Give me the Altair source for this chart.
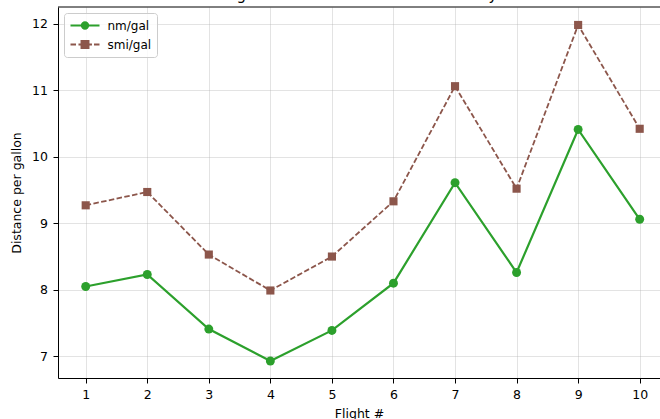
import altair as alt
import pandas as pd

# ---- data ----
title_text = "Mileage in nautical and statute miles by run"
flights = [1, 2, 3, 4, 5, 6, 7, 8, 9, 10]
nm_gal = [8.05, 8.23, 7.41, 6.93, 7.39, 8.10, 9.61, 8.26, 10.41, 9.06]
smi_gal = [9.27, 9.47, 8.53, 7.99, 8.50, 9.33, 11.06, 9.52, 11.98, 10.42]
series_names = ["nm/gal", "smi/gal"]
series_colors = ["#2ca02c", "#8c564b"]
x_ticks = [1, 2, 3, 4, 5, 6, 7, 8, 9, 10]
y_ticks = [7, 8, 9, 10, 11, 12]
x_title = "Flight #"
y_title = "Distance per gallon"

df = pd.DataFrame({
    "flight": flights + flights,
    "value": nm_gal + smi_gal,
    "series": [series_names[0]] * len(flights) + [series_names[1]] * len(flights),
})

W, H = 602, 371
FONT = "DejaVu Sans"

xscale = alt.Scale(domain=[0.55, 10.33], nice=False, zero=False)
yscale = alt.Scale(domain=[6.675, 12.25], nice=False, zero=False)
color_scale = alt.Scale(domain=series_names, range=series_colors)

x_enc = alt.X("flight:Q", scale=xscale,
              axis=alt.Axis(values=x_ticks, title=x_title, format="d"))
y_enc = alt.Y("value:Q", scale=yscale,
              axis=alt.Axis(values=y_ticks, title=y_title, format="d"))
col_nolegend = alt.Color("series:N", scale=color_scale, legend=None)

base = alt.Chart(df)

line_nm = base.transform_filter(alt.datum.series == series_names[0]).mark_line(
    strokeWidth=2.2, clip=True).encode(x=x_enc, y=y_enc, color=col_nolegend)
line_smi = base.transform_filter(alt.datum.series == series_names[1]).mark_line(
    strokeWidth=1.8, strokeDash=[5.5, 2.4], clip=True).encode(x=x_enc, y=y_enc, color=col_nolegend)
pts_nm = base.transform_filter(alt.datum.series == series_names[0]).mark_point(
    filled=True, shape="circle", size=80, opacity=1, clip=True).encode(x=x_enc, y=y_enc, color=col_nolegend)
pts_smi = base.transform_filter(alt.datum.series == series_names[1]).mark_point(
    filled=True, shape="square", size=66, opacity=1, clip=True).encode(x=x_enc, y=y_enc, color=col_nolegend)

# legend symbols: line + marker (rings drawn to look filled)
path_nm = ("M-1,0L1,0"
           "M0.22,0A0.22,0.22 0 1,1 -0.22,0A0.22,0.22 0 1,1 0.22,0"
           "M0.1,0A0.1,0.1 0 1,1 -0.1,0A0.1,0.1 0 1,1 0.1,0"
           "M0.03,0A0.03,0.03 0 1,1 -0.03,0A0.03,0.03 0 1,1 0.03,0")
path_smi = ("M-1,0L-0.62,0M-0.45,0L-0.07,0M0.1,0L0.48,0M0.62,0L1,0"
            "M-0.24,-0.24L0.24,-0.24L0.24,0.24L-0.24,0.24Z"
            "M-0.12,-0.12L0.12,-0.12L0.12,0.12L-0.12,0.12Z"
            "M-0.03,-0.03L0.03,-0.03L0.03,0.03L-0.03,0.03Z")

legend_params = dict(
    title=None, orient="none", legendX=6, legendY=6,
    symbolSize=841, symbolStrokeWidth=2, clipHeight=14,
    labelFont=FONT, labelFontSize=12, labelColor="black", labelOffset=7,
    rowPadding=5, padding=5.5,
    fillColor="rgba(255,255,255,0.8)", strokeColor="#cccccc", cornerRadius=3,
)

legend_layer = base.mark_point(filled=False, strokeWidth=2, opacity=1, clip=True).encode(
    x=x_enc,
    y=alt.value(-300),
    color=alt.Color("series:N", scale=color_scale, legend=alt.Legend(**legend_params)),
    shape=alt.Shape("series:N", scale=alt.Scale(domain=series_names, range=[path_nm, path_smi]),
                    legend=alt.Legend(**legend_params)),
)

top_spine = alt.Chart(pd.DataFrame({"k": [0]})).mark_rule(color="black", strokeWidth=1).encode(
    x=alt.value(0), x2=alt.value(W), y=alt.value(0))

title_layer = alt.Chart(pd.DataFrame({"t": [title_text]})).mark_text(
    font=FONT, fontSize=15, align="center", baseline="alphabetic", color="black").encode(
    text="t:N", x=alt.value(304), y=alt.value(-7))

chart = alt.layer(
    line_smi, line_nm, pts_smi, pts_nm, legend_layer, top_spine, title_layer
).resolve_legend(color="independent", shape="independent").properties(
    width=W, height=H,
    autosize=alt.AutoSizeParams(type="none"),
    padding={"left": 58, "top": 7, "right": 0, "bottom": 41},
    background="white",
).configure_view(stroke=None).configure_axis(
    domainColor="black", domainWidth=1,
    tickColor="black", tickSize=5, tickWidth=1,
    labelColor="black", labelFont=FONT, labelFontSize=12.5,
    titleColor="black", titleFont=FONT, titleFontSize=12.5, titleFontWeight="normal",
    gridColor="#b0b0b0", gridOpacity=0.35, gridWidth=1,
).configure_axisX(labelPadding=5.5, titlePadding=6).configure_axisY(labelPadding=5.5, titlePadding=8)

chart.save("out.html", embed_options={"renderer": "svg", "actions": False})
